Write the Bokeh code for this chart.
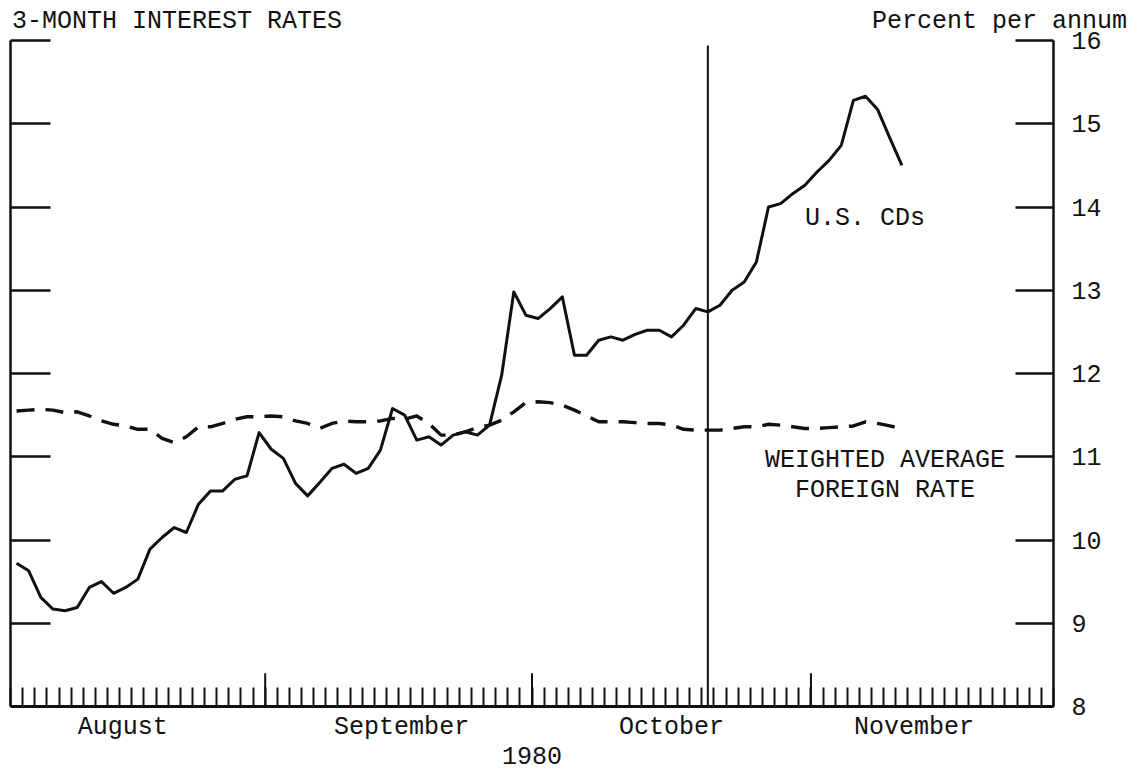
from bokeh.plotting import figure
from bokeh.layouts import column
from bokeh.models import LinearAxis, FixedTicker, Label, Div
from bokeh.embed import file_html
from bokeh.resources import INLINE

# ---- data (business days from 1 Aug 1980; values in percent per annum) ----
days = list(range(74))
us_cds = [9.72, 9.63, 9.31, 9.17, 9.15, 9.19, 9.43, 9.50, 9.36, 9.43,
          9.53, 9.89, 10.03, 10.15, 10.09, 10.43, 10.59, 10.59, 10.73, 10.77,
          11.29, 11.09, 10.98, 10.68, 10.53, 10.69, 10.86, 10.91, 10.80, 10.86,
          11.08, 11.58, 11.50, 11.20, 11.24, 11.14, 11.26, 11.30, 11.26, 11.38,
          11.98, 12.98, 12.70, 12.66, 12.78, 12.92, 12.22, 12.22, 12.40, 12.44,
          12.40, 12.47, 12.52, 12.52, 12.44, 12.58, 12.78, 12.74, 12.82, 13.00,
          13.10, 13.34, 14.00, 14.04, 14.16, 14.26, 14.42, 14.56, 14.74, 15.28,
          15.33, 15.17, 14.83, 14.50]
foreign = [11.55, 11.56, 11.57, 11.56, 11.53, 11.54, 11.49, 11.43, 11.39, 11.37,
           11.33, 11.33, 11.22, 11.17, 11.24, 11.36, 11.36, 11.40, 11.45, 11.48,
           11.48, 11.49, 11.48, 11.43, 11.40, 11.34, 11.40, 11.43, 11.42, 11.42,
           11.43, 11.46, 11.45, 11.49, 11.40, 11.26, 11.26, 11.30, 11.35, 11.38,
           11.44, 11.54, 11.65, 11.66, 11.65, 11.62, 11.56, 11.49, 11.42, 11.42,
           11.42, 11.41, 11.40, 11.40, 11.38, 11.33, 11.32, 11.32, 11.32, 11.34,
           11.36, 11.36, 11.39, 11.38, 11.36, 11.34, 11.34, 11.35, 11.36, 11.37,
           11.42, 11.40, 11.37, 11.34]
n_days = 86                      # business days Aug-Nov 1980
month_names = ["August", "September", "October", "November"]
month_bounds = [21, 43, 66]      # first business day of Sep, Oct, Nov
month_label_pos = [9.25, 32.25, 54.5, 74.5]
y_ticks = [8, 9, 10, 11, 12, 13, 14, 15, 16]
marker_day = 57

FONT = "Liberation Mono"
INK = "#111111"
TALL_TICK = 0.4   # height of month-boundary ticks, in axis units

x = [d + 0.5 for d in days]

header = Div(text=(
    '<div style="position:relative;width:1143px;height:25px;overflow:visible;'
    'font-family:\'Liberation Mono\';font-size:25px;color:#111111;">'
    '<span style="position:absolute;left:12px;top:4px;white-space:nowrap;">3-MONTH INTEREST RATES</span>'
    '<span style="position:absolute;right:16px;top:4px;white-space:nowrap;">Percent per annum</span>'
    '</div>'), width=1143, height=25, margin=0)

p = figure(width=1143, height=746, x_range=(0, n_days), y_range=(8, 16),
           output_backend="svg", toolbar_location=None,
           x_axis_location=None, y_axis_location=None,
           min_border_left=10, min_border_right=90,
           min_border_top=15, min_border_bottom=65, margin=0)
p.outline_line_color = None
p.grid.visible = False
p.background_fill_color = "white"
p.border_fill_color = None

p.line(x, us_cds, line_color=INK, line_width=3, line_join="round")
p.line(x, foreign, line_color=INK, line_width=3.4, line_dash="18 11",
       line_join="round")

# taller ticks at month boundaries
p.segment(x0=month_bounds, x1=month_bounds, y0=[y_ticks[0]] * len(month_bounds),
          y1=[y_ticks[0] + TALL_TICK] * len(month_bounds),
          line_color=INK, line_width=2)

# vertical marker line
p.segment(x0=[marker_day + 0.5], x1=[marker_day + 0.5], y0=[y_ticks[0]],
          y1=[y_ticks[-1] - 0.06], line_color=INK, line_width=2)

# left axis: inward ticks, no labels (minor ticks only)
left = LinearAxis(ticker=FixedTicker(ticks=[], minor_ticks=y_ticks[1:]),
                  major_tick_in=0, major_tick_out=0,
                  minor_tick_in=40, minor_tick_out=0,
                  axis_line_width=2.5, axis_line_color=INK,
                  minor_tick_line_width=2.5, minor_tick_line_color=INK)
p.add_layout(left, "left")

# right axis with labels
right = LinearAxis(ticker=FixedTicker(ticks=y_ticks),
                   major_tick_in=38, major_tick_out=0,
                   minor_tick_in=0, minor_tick_out=0,
                   major_label_standoff=18,
                   major_label_text_font=FONT, major_label_text_font_size="25px",
                   major_label_text_color=INK,
                   axis_line_width=2.5, axis_line_color=INK,
                   major_tick_line_width=2.5, major_tick_line_color=INK)
p.add_layout(right, "right")

# bottom: daily ticks, month names, year
bottom = LinearAxis(ticker=FixedTicker(ticks=month_label_pos,
                                       minor_ticks=list(range(n_days + 1))),
                    major_label_overrides={pos: name for pos, name in zip(month_label_pos, month_names)},
                    major_tick_in=0, major_tick_out=0,
                    minor_tick_in=19, minor_tick_out=0,
                    major_tick_line_color=None,
                    major_label_standoff=6,
                    major_label_text_font=FONT, major_label_text_font_size="25px",
                    major_label_text_color=INK,
                    axis_label="1980", axis_label_standoff=2,
                    axis_label_text_font=FONT, axis_label_text_font_size="25px",
                    axis_label_text_font_style="normal",
                    axis_label_text_color=INK,
                    axis_line_width=3, axis_line_color=INK,
                    minor_tick_line_width=2, minor_tick_line_color=INK)
p.add_layout(bottom, "below")

# annotations
p.add_layout(Label(x=65.5, y=13.86, text="U.S. CDs", text_baseline="middle",
                   text_font=FONT, text_font_size="25px", text_color=INK))
p.add_layout(Label(x=72.1, y=10.955, text="WEIGHTED AVERAGE", text_align="center",
                   text_baseline="middle", text_font=FONT, text_font_size="25px",
                   text_color=INK))
p.add_layout(Label(x=72.1, y=10.595, text="FOREIGN RATE", text_align="center",
                   text_baseline="middle", text_font=FONT, text_font_size="25px",
                   text_color=INK))

layout = column(header, p, spacing=0, margin=0)
open("out.html", "w").write(file_html(layout, INLINE))
